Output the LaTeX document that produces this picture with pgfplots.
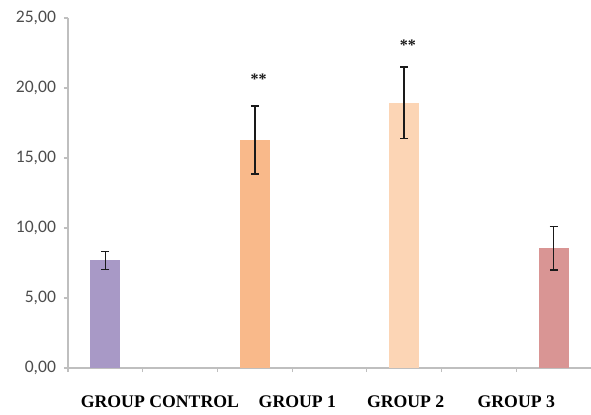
\documentclass[border=0pt]{standalone}
\usepackage{fontspec}
\setmainfont{Liberation Serif}
\newfontfamily\calib{Carlito}
\usepackage{pgfplots}
\pgfplotsset{compat=1.18}
\usetikzlibrary{calc}
\definecolor{cCtrl}{HTML}{A899C6}
\definecolor{cG1}{HTML}{F9B98A}
\definecolor{cG2}{HTML}{FCD5B5}
\definecolor{cG3}{HTML}{D99594}
\definecolor{axgray}{HTML}{BFBFBF}
\definecolor{lblgray}{HTML}{4D4D4D}
\definecolor{errc}{HTML}{1A1A1A}
\begin{document}
\begin{tikzpicture}
\begin{axis}[
  name=ax,
  scale only axis,
  width=392.25pt, height=262.5pt,
  xmin=-0.5, xmax=6.5,
  ymin=0, ymax=25,
  axis x line=bottom, axis y line=left,
  axis line style={-, axgray, line width=0.9pt},
  ytick={0,5,10,15,20,25},
  xtick={0.73,2.57,4.02,5.5},
  xticklabels={GROUP CONTROL, GROUP 1, GROUP 2, GROUP 3},
  minor xtick={-0.5,0.5,1.5,2.5,3.5,4.5,5.5},
  major x tick style={draw=none},
  minor tick style={axgray, line width=0.8pt},
  major tick style={axgray, line width=0.8pt},
  tick align=outside,
  major tick length=3pt, minor tick length=3pt,
  xticklabel style={font=\fontsize{13.3}{15}\selectfont\bfseries, text=black, yshift=-14pt},
  yticklabel style={font=\calib\fontsize{13.2}{15}\selectfont, text=lblgray, xshift=-2.5pt},
  /pgf/number format/.cd, fixed, fixed zerofill, precision=2, use comma, assume math mode=true,
  /pgfplots/.cd,
  ybar, bar width=22.5pt,
  clip=false,
  error bars/error bar style={errc, line width=1.2pt},
  error bars/error mark options={rotate=90, errc, mark size=3pt, line width=1.2pt},
]
\addplot[ybar, bar shift=0pt, fill=cCtrl, draw=none,
  error bars/.cd, y dir=both, y explicit]
  coordinates {(0,7.68) +- (0,0.63)};
\addplot[ybar, bar shift=0pt, fill=cG1, draw=none,
  error bars/.cd, y dir=both, y explicit]
  coordinates {(2,16.29) +- (0,2.42)};
\addplot[ybar, bar shift=0pt, fill=cG2, draw=none,
  error bars/.cd, y dir=both, y explicit]
  coordinates {(4,18.95) +- (0,2.56)};
\addplot[ybar, bar shift=0pt, fill=cG3, draw=none,
  error bars/.cd, y dir=both, y explicit]
  coordinates {(6,8.55) +- (0,1.55)};
\node[font=\fontsize{12}{13}\selectfont\bfseries, text=errc] at (axis cs:2.05,20.6) {**};
\node[font=\fontsize{12}{13}\selectfont\bfseries, text=errc] at (axis cs:4.05,23.05) {**};
\end{axis}
\pgfresetboundingbox
\useasboundingbox ($(ax.south west)+(-51pt,-34.5pt)$) rectangle ($(ax.north east)+(0pt,13.5pt)$);
\end{tikzpicture}
\end{document}
